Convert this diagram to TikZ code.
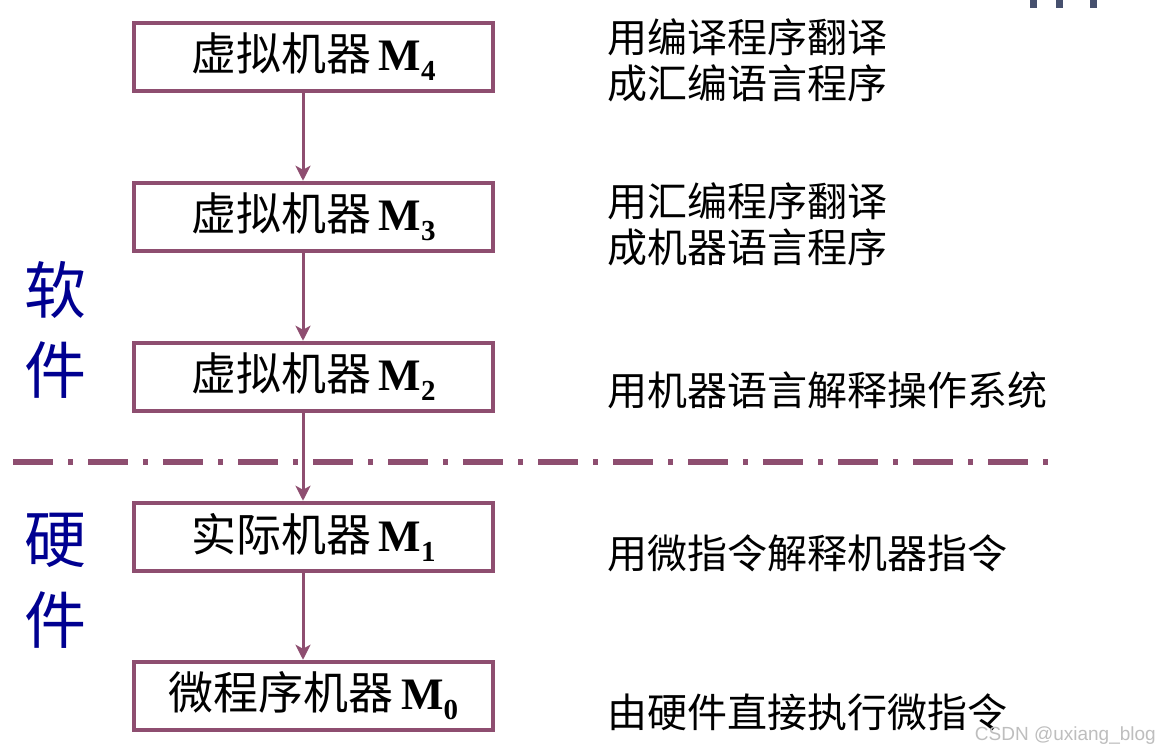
\documentclass[tikz,border=0pt]{standalone}
\usepackage{fontspec}
\setmainfont{Liberation Serif}
\newfontfamily\cjk{Noto Sans CJK SC}
\newfontfamily\wmfont{Liberation Sans}
\usetikzlibrary{arrows.meta}
\definecolor{mauve}{RGB}{142,78,112}
\definecolor{navy}{RGB}{0,0,145}
\definecolor{wmgray}{RGB}{190,190,190}
\definecolor{artif}{RGB}{70,80,110}
\newcommand{\mach}[2]{{\cjk #1}\,\textbf{M}\raisebox{-10pt}{\fontsize{29}{30}\selectfont\textbf{#2}}}
\begin{document}
\begin{tikzpicture}[x=1pt,y=-1pt,
  machbox/.style={draw=mauve,line width=4.5pt,minimum width=359pt,minimum height=68pt,inner sep=0pt,
    font=\fontsize{45}{48}\selectfont,text=black},
  arr/.style={draw=mauve,line width=3pt,-{Stealth[length=15pt,width=15pt,inset=4pt]}},
  desc/.style={anchor=west,font=\cjk\fontsize{40}{46}\selectfont,text=black,inner sep=0pt,align=left},
  side/.style={font=\cjk\fontsize{62}{62}\selectfont,text=navy,inner sep=0pt},
  divider/.style={draw=mauve,line width=5.5pt,dash pattern=on 40pt off 15pt on 5pt off 15pt}]
\useasboundingbox (0,0) rectangle (1162,755);
\fill[white] (0,0) rectangle (1162,755);
% artifacts at top right
\fill[artif] (1030,0) rectangle (1037,8);
\fill[artif] (1056,0) rectangle (1063,8);
\fill[artif] (1090,0) rectangle (1097,8);
% boxes
\node[machbox] (m4) at (313.5,57) {\mach{虚拟机器}{4}};
\node[machbox] (m3) at (313.5,217) {\mach{虚拟机器}{3}};
\node[machbox] (m2) at (313.5,377) {\mach{虚拟机器}{2}};
\node[machbox] (m1) at (313.5,537) {\mach{实际机器}{1}};
\node[machbox] (m0) at (313.5,696) {\mach{微程序机器}{0}};
\coordinate (ax) at (303,0);
\draw[arr] (m4.south -| ax) -- (m3.north -| ax);
\draw[arr] (m3.south -| ax) -- (m2.north -| ax);
\draw[arr] (m2.south -| ax) -- (m1.north -| ax);
\draw[arr] (m1.south -| ax) -- (m0.north -| ax);
% divider
\coordinate (dl) at (13,462);
\coordinate (dr) at (1048,462);
\draw[divider] (dl) -- (dr);
% side labels
\node[side] (s1) at (55,290) {软};
\node[side] (s2) at (55,370) {件};
\node[side] (h1) at (55,540) {硬};
\node[side] (h2) at (55,620) {件};
% descriptions
\node[desc] (d4a) at (607,37) {用编译程序翻译};
\node[desc] (d4b) at (607,83) {成汇编语言程序};
\node[desc] (d3a) at (607,201) {用汇编程序翻译};
\node[desc] (d3b) at (607,247) {成机器语言程序};
\node[desc] (d2) at (607,390) {用机器语言解释操作系统};
\node[desc] (d1) at (607,553) {用微指令解释机器指令};
\node[desc] (d0) at (607,712) {由硬件直接执行微指令};
% watermark
\node[anchor=east,font=\wmfont\fontsize{19}{20}\selectfont,text=wmgray,inner sep=0pt] (wm) at (1156,736) {CSDN @uxiang\_blog};
\end{tikzpicture}
\end{document}
